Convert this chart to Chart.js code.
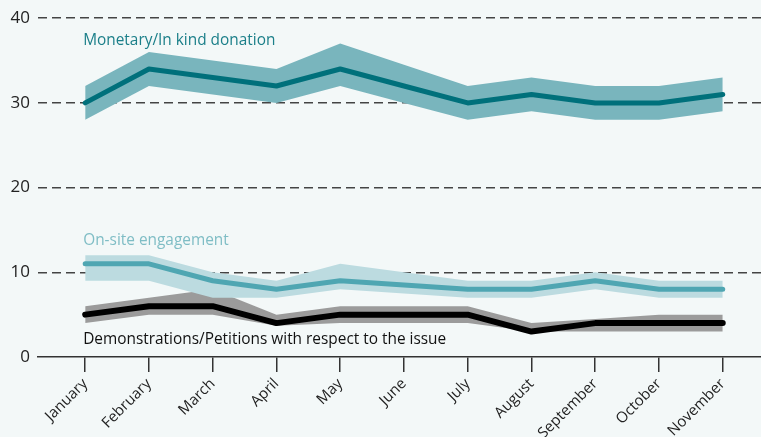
<!DOCTYPE html>
<html>
<head>
<meta charset="utf-8">
<script src="https://cdn.jsdelivr.net/npm/chart.js@4/dist/chart.umd.min.js"></script>
<style>
  html, body { margin: 0; padding: 0; background: #f3f8f8; }
  #wrap { width: 761px; height: 437px; }
</style>
</head>
<body>
<div id="wrap"><canvas id="trendChart" width="761" height="437"></canvas></div>
<script>
const months = ["January", "February", "March", "April", "May", "June", "July",
  "August", "September", "October", "November"];
const yTicks = [0, 10, 20, 30, 40];

// Monetary / in kind donation
const monetary = [30, 34, 33, 32, 34, 32, 30, 31, 30, 30, 31];
const monetaryHigh = [32, 36, 35, 34, 37, 34.5, 32, 33, 32, 32, 33];
const monetaryLow = [28, 32, 31, 30, 32, 30, 28, 29, 28, 28, 29];

// On-site engagement
const onsite = [11, 11, 9, 8, 9, 8.5, 8, 8, 9, 8, 8];
const onsiteHigh = [12, 12, 10, 9, 11, 10, 9, 9, 10, 9, 9];
const onsiteLow = [9, 9, 7, 7, 8, 7.5, 7, 7, 8, 7, 7];

// Demonstrations / petitions
const demo = [5, 6, 6, 4, 5, 5, 5, 3, 4, 4, 4];
const demoHigh = [6, 7, 8, 5, 6, 6, 6, 4, 4.5, 5, 5];
const demoLow = [4, 5, 5, 3.7, 4, 4, 4, 3, 3, 3, 3];

const seriesLabels = [
  { text: "Monetary/In kind donation", y: 37.4, color: "#1b7f89" },
  { text: "On-site engagement", y: 13.7, color: "#7fbdc5" },
  { text: "Demonstrations/Petitions with respect to the issue", y: 2.0, color: "#111111" },
];

const pts = (arr) => arr.map((v, i) => ({ x: i, y: v }));

const lineSet = (data, color, width, order) => ({
  data: pts(data),
  borderColor: color,
  borderWidth: width,
  borderCapStyle: "round",
  borderJoinStyle: "round",
  pointRadius: 0,
  fill: false,
  order: order,
});

const bandSet = (data, color, order, fill) => ({
  data: pts(data),
  borderWidth: 0,
  borderColor: "transparent",
  backgroundColor: color,
  pointRadius: 0,
  fill: fill,
  order: order,
});

const bgPlugin = {
  id: "bg",
  beforeDraw(chart) {
    const ctx = chart.ctx;
    ctx.save();
    ctx.fillStyle = "#f3f8f8";
    ctx.fillRect(0, 0, chart.width, chart.height);
    ctx.restore();
  },
};

const labelPlugin = {
  id: "seriesLabels",
  afterDatasetsDraw(chart) {
    const ctx = chart.ctx;
    const xs = chart.scales.x;
    const ys = chart.scales.y;
    ctx.save();
    ctx.font = "15.4px 'Open Sans'";
    ctx.textBaseline = "middle";
    ctx.textAlign = "left";
    seriesLabels.forEach((l) => {
      ctx.fillStyle = l.color;
      ctx.fillText(l.text, xs.getPixelForValue(0) - 2, ys.getPixelForValue(l.y));
    });
    ctx.restore();
  },
};

const ctx = document.getElementById("trendChart").getContext("2d");
new Chart(ctx, {
  type: "line",
  data: {
    datasets: [
      lineSet(monetary, "#00707b", 5, 0),
      bandSet(monetaryHigh, "#79b5bd", 1, "+1"),
      bandSet(monetaryLow, "#79b5bd", 1, false),
      lineSet(onsite, "#4fa6b2", 5, 2),
      bandSet(onsiteHigh, "#bcdbe0", 3, "+1"),
      bandSet(onsiteLow, "#bcdbe0", 3, false),
      lineSet(demo, "#000000", 6, 4),
      bandSet(demoHigh, "#9b9b9b", 5, "+1"),
      bandSet(demoLow, "#9b9b9b", 5, false),
    ],
  },
  options: {
    responsive: false,
    animation: false,
    layout: { padding: { top: 18, right: 0, bottom: 0, left: 0 } },
    plugins: { legend: { display: false }, tooltip: { enabled: false } },
    scales: {
      x: {
        type: "linear",
        min: -0.74,
        max: 10.6,
        afterBuildTicks: (scale) => {
          scale.ticks = months.map((_, i) => ({ value: i }));
        },
        afterFit: (scale) => {
          scale.height = 80;
        },
        ticks: {
          autoSkip: false,
          maxRotation: 45,
          minRotation: 45,
          padding: 3,
          color: "#222222",
          font: { family: "'Open Sans'", size: 15 },
          callback: (v) => months[v],
        },
        grid: {
          drawOnChartArea: false,
          drawTicks: true,
          tickLength: 15,
          color: "#333333",
          lineWidth: 1.5,
        },
        border: { display: true, color: "#333333", width: 1.5 },
      },
      y: {
        min: 0,
        max: 40,
        afterBuildTicks: (scale) => {
          scale.ticks = yTicks.map((v) => ({ value: v }));
        },
        afterFit: (scale) => {
          scale.width = 38;
        },
        ticks: {
          padding: 8,
          color: "#222222",
          font: { family: "'Open Sans'", size: 17 },
        },
        grid: {
          drawTicks: false,
          color: (c) => (c.tick && c.tick.value === 0 ? "transparent" : "#444444"),
          lineWidth: 1.5,
        },
        border: { display: false, dash: [9, 5] },
      },
    },
  },
  plugins: [bgPlugin, labelPlugin],
});
</script>
</body>
</html>
